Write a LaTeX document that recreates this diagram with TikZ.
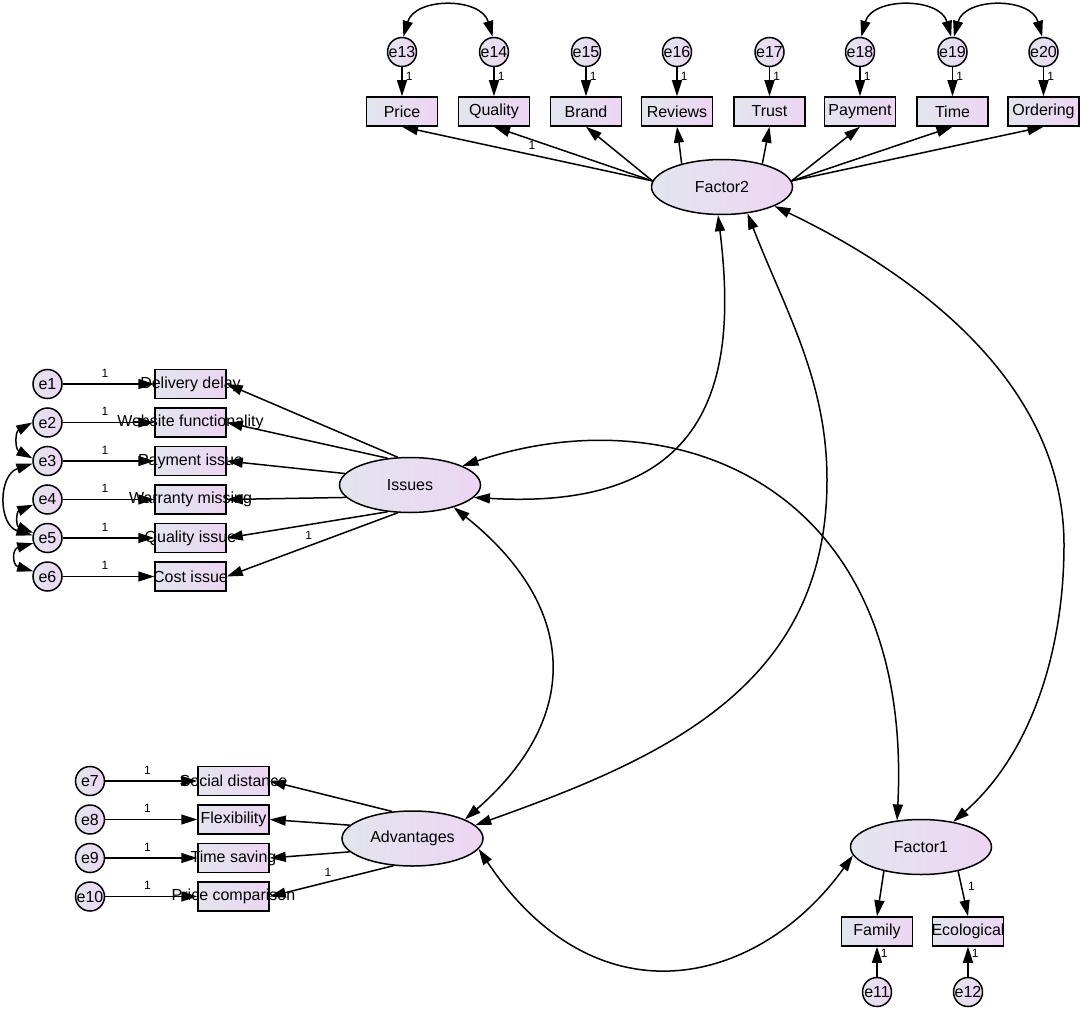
\documentclass[tikz,border=0pt]{standalone}
\usepackage{fontspec}
\setmainfont{Liberation Sans}
\usetikzlibrary{arrows.meta,shapes.geometric}
\definecolor{shadeleft}{RGB}{226,229,238}
\definecolor{shaderight}{RGB}{237,213,243}
\newcommand{\ovtext}[1]{\makebox[0pt]{#1}}

\begin{document}
\begin{tikzpicture}[x=1pt, y=-1pt, line width=1.5pt,
  latent/.style = {shape=ellipse, draw, left color=shadeleft, right color=shaderight, inner sep=0pt, minimum width=141pt, minimum height=55pt, font=\fontsize{16}{19}\selectfont},
  observed/.style = {shape=rectangle, draw, left color=shadeleft, right color=shaderight, inner sep=0pt, minimum width=71pt, minimum height=29pt, font=\fontsize{16}{19}\selectfont},
  residual/.style = {shape=circle, draw, left color=shadeleft, right color=shaderight, inner sep=0pt, minimum size=29pt, font=\fontsize{16}{19}\selectfont},
  regress/.style = {-{Triangle[length=16pt, width=10pt]}},
  covar/.style = {{Triangle[length=16pt, width=10pt]}-{Triangle[length=16pt, width=10pt]}},
  weight/.style = {font=\fontsize{12}{14}\selectfont, inner sep=1pt}]
	\useasboundingbox (0,0) rectangle (1084,1011);
	% latent factors
	\node[latent] (Factor2) at (722,187) {Factor2};
	\node[latent] (Issues) at (410,485) {Issues};
	\node[latent] (Advantages) at (412.5,838.5) {Advantages};
	\node[latent] (Factor1) at (921,847) {Factor1};
	% top row
	\node[observed] (price) at (402,111.5) {\ovtext{Price}};
	\node[observed] (quality) at (494,111.5) {\ovtext{Quality}};
	\node[observed] (brand) at (586,111.5) {\ovtext{Brand}};
	\node[observed] (reviews) at (677,111.5) {\ovtext{Reviews}};
	\node[observed] (trust) at (769.5,111.5) {\ovtext{Trust}};
	\node[observed] (payment) at (860,111.5) {\ovtext{Payment}};
	\node[observed] (time) at (952.5,111.5) {\ovtext{Time}};
	\node[observed] (ordering) at (1043.5,111.5) {\ovtext{Ordering}};
	\node[residual] (e13) at (402,52) {\ovtext{e13}};
	\node[residual] (e14) at (494,52) {\ovtext{e14}};
	\node[residual] (e15) at (586,52) {\ovtext{e15}};
	\node[residual] (e16) at (677,52) {\ovtext{e16}};
	\node[residual] (e17) at (769.5,52) {\ovtext{e17}};
	\node[residual] (e18) at (860,52) {\ovtext{e18}};
	\node[residual] (e19) at (952.5,52) {\ovtext{e19}};
	\node[residual] (e20) at (1043.5,52) {\ovtext{e20}};
	% issues
	\node[observed] (delivery) at (190.5,384) {\ovtext{Delivery delay}};
	\node[observed] (website) at (190.5,422.5) {\ovtext{Website functionality}};
	\node[observed] (paymentissue) at (190.5,461) {\ovtext{Payment issue}};
	\node[observed] (warranty) at (190.5,499.5) {\ovtext{Warranty missing}};
	\node[observed] (qualityissue) at (190.5,538) {\ovtext{Quality issue}};
	\node[observed] (costissue) at (190.5,576.5) {\ovtext{Cost issue}};
	\node[residual] (e1) at (47.5,384) {\ovtext{e1}};
	\node[residual] (e2) at (47.5,422.5) {\ovtext{e2}};
	\node[residual] (e3) at (47.5,461) {\ovtext{e3}};
	\node[residual] (e4) at (47.5,499.5) {\ovtext{e4}};
	\node[residual] (e5) at (47.5,538) {\ovtext{e5}};
	\node[residual] (e6) at (47.5,576.5) {\ovtext{e6}};
	% advantages
	\node[observed] (social) at (233.5,781) {\ovtext{Social distance}};
	\node[observed] (flexibility) at (233.5,819.5) {\ovtext{Flexibility}};
	\node[observed] (timesaving) at (233.5,858) {\ovtext{Time saving}};
	\node[observed] (pricecomp) at (233.5,896.5) {\ovtext{Price comparison}};
	\node[residual] (e7) at (90,781) {\ovtext{e7}};
	\node[residual] (e8) at (90,819.5) {\ovtext{e8}};
	\node[residual] (e9) at (90,858) {\ovtext{e9}};
	\node[residual] (e10) at (90,896.5) {\ovtext{e10}};
	% factor1
	\node[observed] (family) at (877,931.5) {\ovtext{Family}};
	\node[observed] (ecological) at (968,931.5) {\ovtext{Ecological}};
	\node[residual] (e11) at (877,992) {\ovtext{e11}};
	\node[residual] (e12) at (968,992) {\ovtext{e12}};

	% loadings
	\draw[regress] (Factor2.175) -- (price.south);
	\draw[regress] (Factor2.175) -- node[weight, pos=0.76, below] (wq) {1} (quality.south);
	\draw[regress] (Factor2.175) -- (brand.south);
	\draw[regress] (Factor2.150) -- (reviews.south);
	\draw[regress] (Factor2.30) -- (trust.south);
	\draw[regress] (Factor2.5) -- (payment.south);
	\draw[regress] (Factor2.5) -- (time.south);
	\draw[regress] (Factor2.5) -- (ordering.south);
	\draw[regress] (Issues.114) -- (delivery.east);
	\draw[regress] (Issues.130) -- (website.east);
	\draw[regress] (Issues.170) -- (paymentissue.east);
	\draw[regress] (Issues.191) -- (warranty.east);
	\draw[regress] (Issues.230) -- (qualityissue.east);
	\draw[regress] (Issues.246) -- node[weight, pos=0.52, above=5pt] (wc) {1} (costissue.east);
	\draw[regress] (Advantages.127) -- (social.east);
	\draw[regress] (Advantages.168) -- (flexibility.east);
	\draw[regress] (Advantages.192) -- (timesaving.east);
	\draw[regress] (Advantages.235) -- node[weight, pos=0.53, above=4pt] (wp) {1} (pricecomp.east);
	\draw[regress] (Factor1.213) -- (family.north);
	\draw[regress] (Factor1.327) -- node[weight, pos=0.34, right=5pt] (we) {1} (ecological.north);

	% residual paths
	\draw[regress] (e13) -- node[weight, pos=0.3, right=2pt] (w13) {1} (price);
	\draw[regress] (e14) -- node[weight, pos=0.3, right=2pt] (w14) {1} (quality);
	\draw[regress] (e15) -- node[weight, pos=0.3, right=2pt] (w15) {1} (brand);
	\draw[regress] (e16) -- node[weight, pos=0.3, right=2pt] (w16) {1} (reviews);
	\draw[regress] (e17) -- node[weight, pos=0.3, right=2pt] (w17) {1} (trust);
	\draw[regress] (e18) -- node[weight, pos=0.3, right=2pt] (w18) {1} (payment);
	\draw[regress] (e19) -- node[weight, pos=0.3, right=2pt] (w19) {1} (time);
	\draw[regress] (e20) -- node[weight, pos=0.3, right=2pt] (w20) {1} (ordering);
	\draw[regress] (e1) -- node[weight, pos=0.46, above=5pt] (w1) {1} (delivery);
	\draw[regress] (e2) -- node[weight, pos=0.46, above=5pt] (w2) {1} (website);
	\draw[regress] (e3) -- node[weight, pos=0.46, above=5pt] (w3) {1} (paymentissue);
	\draw[regress] (e4) -- node[weight, pos=0.46, above=5pt] (w4) {1} (warranty);
	\draw[regress] (e5) -- node[weight, pos=0.46, above=5pt] (w5) {1} (qualityissue);
	\draw[regress] (e6) -- node[weight, pos=0.46, above=5pt] (w6) {1} (costissue);
	\draw[regress] (e7) -- node[weight, pos=0.46, above=5pt] (w7) {1} (social);
	\draw[regress] (e8) -- node[weight, pos=0.46, above=5pt] (w8) {1} (flexibility);
	\draw[regress] (e9) -- node[weight, pos=0.46, above=5pt] (w9) {1} (timesaving);
	\draw[regress] (e10) -- node[weight, pos=0.46, above=5pt] (w10) {1} (pricecomp);
	\draw[regress] (e11) -- node[weight, pos=0.78, right=2pt] (w11) {1} (family);
	\draw[regress] (e12) -- node[weight, pos=0.78, right=2pt] (w12) {1} (ecological);

	% covariances
	\draw[covar] (e13.85) .. controls (415,-3) and (481,-3) .. (e14.95);
	\draw[covar] (e18.85) .. controls (872,-3) and (940,-3) .. (e19.95);
	\draw[covar] (e19.85) .. controls (965,-3) and (1031,-3) .. (e20.95);
	\draw[covar] (e2.180) .. controls (15,432) and (15,449) .. (e3.170);
	\draw[covar] (e3.190) .. controls (-2,475) and (-2,525) .. (e5.170);
	\draw[covar] (e4.200) .. controls (16,512) and (16,526) .. (e5.160);
	\draw[covar] (e5.200) .. controls (12,549) and (12,565) .. (e6.160);
	\draw[covar] (Factor2.262) .. controls (737,370) and (719,512) .. (Issues.349);
	\draw[covar] (Factor2.314) .. controls (785,310) and (827,380) .. (827,480) .. controls (827,686) and (664,758) .. (Advantages.12);
	\draw[covar] (Factor2.340) .. controls (918,275) and (1064,384) .. (1064,545) .. controls (1064,649) and (1032,753) .. (Factor1.38);
	\draw[covar] (Issues.20) .. controls (675,394) and (914,485) .. (Factor1.132);
	\draw[covar] (Issues.333) .. controls (576,605) and (584.5,715) .. (Advantages.20);
	\draw[covar] (Advantages.351) .. controls (597,1026) and (759,986) .. (Factor1.187);
\end{tikzpicture}
\end{document}
